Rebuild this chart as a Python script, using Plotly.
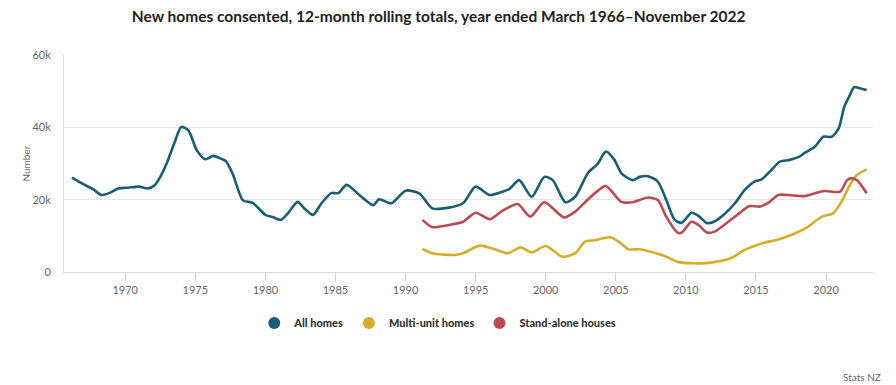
import plotly.graph_objects as go

# All homes (year ended, thousands)
all_years = [1966.2, 1967.0, 1967.7, 1968.3, 1968.9, 1969.5, 1970.2, 1971.0, 1971.6, 1972.1,
             1972.5, 1972.95, 1973.5, 1974.0, 1974.5, 1975.1, 1975.7, 1976.3, 1976.9, 1977.2,
             1977.7, 1978.4, 1979.1, 1980.0, 1980.5, 1981.1, 1981.6, 1982.3, 1982.8, 1983.4,
             1984.0, 1984.7, 1985.2, 1985.8, 1986.7, 1987.7, 1988.1, 1989.0, 1990.0, 1991.0,
             1991.9, 1993.1, 1994.1, 1995.0, 1996.0, 1996.9, 1997.4, 1998.1, 1999.0, 1999.9,
             2000.5, 2001.4, 2002.1, 2003.0, 2003.7, 2004.3, 2004.9, 2005.4, 2006.2, 2006.7,
             2007.3, 2008.0, 2008.6, 2009.2, 2009.7, 2010.4, 2010.9, 2011.5, 2012.0, 2012.8,
             2013.5, 2014.2, 2014.9, 2015.4, 2016.1, 2016.7, 2017.4, 2018.1, 2018.5, 2019.2,
             2019.8, 2020.4, 2020.9, 2021.3, 2021.7, 2022.0, 2022.4, 2022.9]
all_vals = [26.1, 24.3, 22.9, 21.3, 21.9, 23.1, 23.3, 23.6, 23.1, 24.0,
            26.3, 30.0, 35.6, 40.1, 39.2, 33.7, 31.2, 32.1, 31.2, 30.6,
            26.8, 19.8, 19.1, 15.8, 15.2, 14.4, 16.2, 19.4, 17.5, 15.8,
            19.0, 21.8, 21.8, 24.1, 21.3, 18.5, 20.1, 19.0, 22.5, 21.7,
            17.6, 17.8, 19.0, 23.6, 21.3, 22.2, 22.9, 25.4, 20.8, 26.3,
            25.4, 19.3, 20.8, 27.3, 29.9, 33.3, 31.0, 27.3, 25.4, 26.3,
            26.5, 25.0, 19.9, 14.4, 13.6, 16.4, 15.5, 13.5, 13.9, 16.2,
            19.0, 22.7, 25.0, 25.6, 28.2, 30.5, 31.0, 31.9, 33.0, 34.6,
            37.4, 37.4, 39.7, 45.7, 48.9, 51.1, 50.8, 50.3]

multi_years = [1991.2, 1991.9, 1993.5, 1994.1, 1995.3, 1996.2, 1997.3, 1998.2, 1999.0, 2000.0,
               2001.2, 2002.1, 2002.8, 2003.5, 2004.6, 2005.2, 2005.9, 2006.7, 2007.5, 2008.5,
               2009.4, 2010.6, 2011.8, 2013.2, 2014.2, 2015.4, 2016.6, 2017.8, 2018.7, 2019.7,
               2020.5, 2021.1, 2021.7, 2022.2, 2022.9]
multi_vals = [6.4, 5.2, 4.7, 5.2, 7.3, 6.5, 5.2, 6.8, 5.4, 7.2,
              4.2, 5.2, 8.4, 8.8, 9.6, 8.4, 6.3, 6.3, 5.6, 4.4,
              2.8, 2.4, 2.6, 3.8, 6.1, 7.9, 9.0, 10.7, 12.5, 15.3,
              16.2, 19.4, 24.0, 26.8, 28.4]

stand_years = [1991.2, 1991.9, 1993.1, 1994.1, 1995.0, 1996.0, 1996.9, 1998.0, 1998.9, 1999.9,
               2001.3, 2002.1, 2003.1, 2003.8, 2004.3, 2005.4, 2006.2, 2007.3, 2008.0, 2008.6,
               2009.4, 2009.7, 2010.4, 2010.9, 2011.5, 2012.0, 2012.8, 2013.8, 2014.5, 2015.3,
               2015.9, 2016.6, 2017.3, 2018.5, 2019.2, 2019.9, 2021.0, 2021.5, 2021.8, 2022.2,
               2022.9]
stand_vals = [14.4, 12.4, 13.0, 13.9, 16.4, 14.6, 16.9, 18.8, 15.3, 19.3,
              15.1, 16.7, 20.4, 22.7, 23.8, 19.4, 19.3, 20.6, 19.9, 15.3,
              10.9, 10.9, 13.9, 13.0, 10.9, 11.1, 13.2, 16.2, 18.2, 18.1,
              19.2, 21.3, 21.3, 21.0, 21.8, 22.4, 22.2, 25.4, 25.9, 25.4,
              21.8]

series_names = ["All homes", "Multi-unit homes", "Stand-alone houses"]
colors = ["#1b5d72", "#d6ae2e", "#b84c52"]

fig = go.Figure()
data = [(all_years, all_vals), (multi_years, multi_vals), (stand_years, stand_vals)]
for (xs, ys), name, c in zip(data, series_names, colors):
    fig.add_trace(go.Scatter(x=xs, y=[v * 1000 for v in ys], mode="lines", name=name,
                             line=dict(color=c, width=2.6, shape="spline", smoothing=0.7),
                             showlegend=False, hoverinfo="x+y"))
for name, c in zip(series_names, colors):
    fig.add_trace(go.Scatter(x=[None], y=[None], mode="markers", name=name,
                             marker=dict(color=c, size=12, symbol="circle")))

fig.update_layout(
    width=888, height=377,
    margin=dict(l=56, r=23, t=47, b=113),
    paper_bgcolor="white", plot_bgcolor="white",
    font=dict(family="Lato, Open Sans, sans-serif", color="#666666", size=11),
    title=dict(text="<b>New homes consented, 12-month rolling totals, year ended March 1966–November 2022</b>",
               x=0.485, xanchor="center", y=0.976, yanchor="middle",
               font=dict(size=15.5, color="#222222", family="Lato, sans-serif")),
    legend=dict(orientation="h", x=0.462, xanchor="center", y=-0.235, yanchor="middle",
                font=dict(size=11, color="#333333", family="Lato Black, Lato, sans-serif"),
                itemsizing="constant", tracegroupgap=0, itemwidth=30),
    xaxis=dict(range=[1965.63, 2023.35], tickvals=[1970, 1975, 1980, 1985, 1990, 1995, 2000, 2005, 2010, 2015, 2020],
               ticks="outside", ticklen=8, tickcolor="#d0d0d0", showgrid=False,
               showline=True, linecolor="#d9d9d9", linewidth=1, zeroline=False,
               tickfont=dict(size=11, color="#666666")),
    yaxis=dict(range=[0, 60000], tickvals=[0, 20000, 40000, 60000], ticktext=["0", "20k", "40k", "60k"],
               showgrid=True, gridcolor="#e6e6e6", gridwidth=1, showline=True, linecolor="#d9d9d9",
               zeroline=False, ticks="", ticklabelstandoff=10, tickfont=dict(size=11, color="#666666")),
    annotations=[
        dict(text="Number", textangle=-90, xref="paper", yref="paper", x=-0.058, y=0.5,
             showarrow=False, font=dict(size=10, color="#666666")),
        dict(text="Stats NZ", xref="paper", yref="paper", x=1.012, y=-0.484, xanchor="right",
             yanchor="middle", showarrow=False, font=dict(size=10, color="#666666")),
    ],
)

fig.write_html("out.html")
